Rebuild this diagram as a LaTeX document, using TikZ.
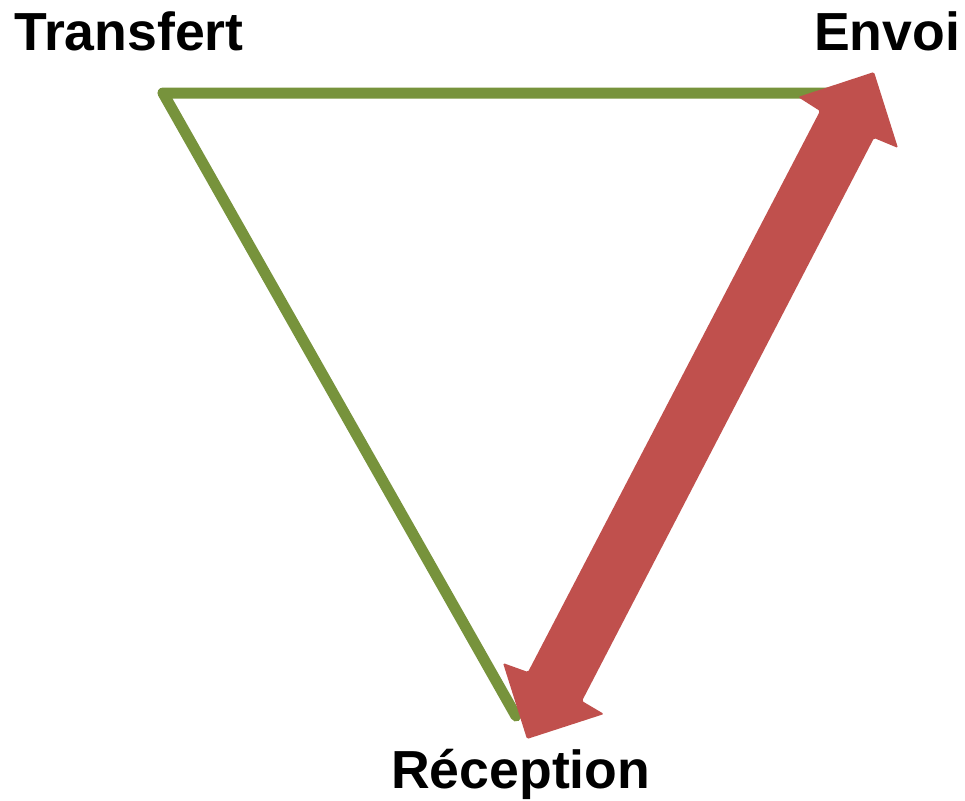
\documentclass[tikz,border=0pt]{standalone}
\usepackage{fontspec}
\setmainfont{Liberation Sans}
\definecolor{olive}{HTML}{77933C}
\definecolor{brick}{HTML}{C0504D}
\begin{document}
\begin{tikzpicture}[x=1pt,y=-1pt,
  lbl/.style={inner sep=0pt,anchor=base west,font=\fontsize{53.6}{60}\selectfont\bfseries},
  side/.style={draw=olive,line width=11pt,line join=round,line cap=round},
  bigarrow/.style={fill=brick,draw=none,rounded corners=1.5pt}]
\useasboundingbox (0,0) rectangle (965,800);
% triangle corners
\coordinate (cT) at (163,93);
\coordinate (cE) at (830,93);
\coordinate (cR) at (516,716);
\draw[side] (cE) -- (cT) -- (cR);
% double arrow outline
\coordinate (tipE) at (874,72);
\coordinate (barbER) at (898,148);
\coordinate (notchER) at (874,138);
\coordinate (notchRR) at (582,701);
\coordinate (barbRR) at (604,714);
\coordinate (tipR) at (527,739);
\coordinate (barbRL) at (503,663);
\coordinate (notchRL) at (528,672);
\coordinate (notchEL) at (820,111);
\coordinate (barbEL) at (798,97);
\fill[bigarrow] (tipE) -- (barbER) -- (notchER) -- (notchRR) -- (barbRR) -- (tipR) -- (barbRL) -- (notchRL) -- (notchEL) -- (barbEL) -- cycle;
% labels
\node[lbl] (lT) at (14,50) {Transfert};
\node[lbl] (lE) at (814,50) {Envoi};
\node[lbl] (lR) at (391,788) {Réception};
\end{tikzpicture}
\end{document}
